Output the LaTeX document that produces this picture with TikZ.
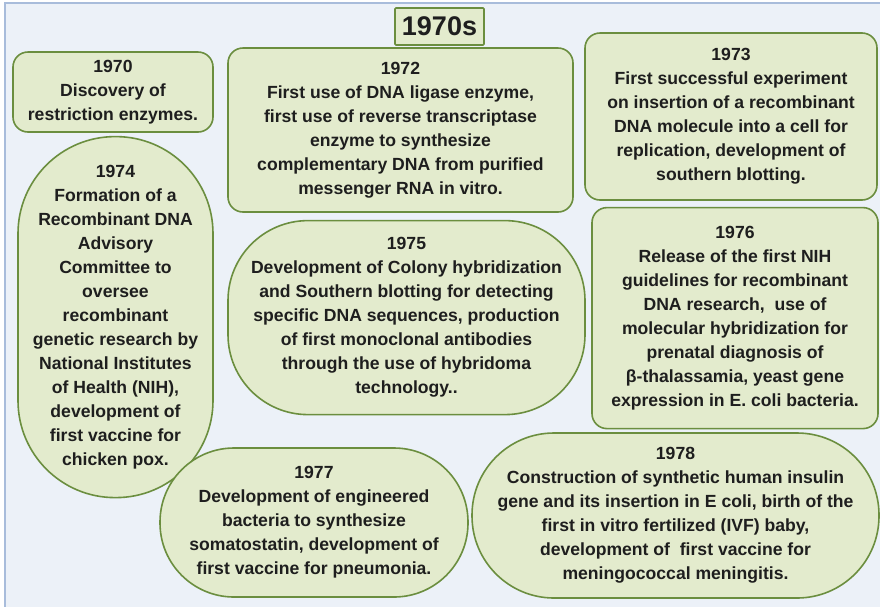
\documentclass[tikz,border=0pt]{standalone}
\usepackage{fontspec}
\setmainfont{Liberation Sans}
\usepackage{xcolor}
\usepackage{tikz}
\usetikzlibrary{
    positioning
}
\definecolor{eventfill}{HTML}{E3EBCD}
\definecolor{eventborder}{HTML}{6B8E3F}
\definecolor{eventtext}{HTML}{1E1E1E}
\definecolor{framefill}{HTML}{ECF1F8}
\definecolor{frameborder}{HTML}{A8BCDB}
\tikzset{
    event/.style={
        rectangle, draw=eventborder, fill=eventfill,
        line width=1.6pt, inner sep=0pt, align=center,
        text=eventtext,
        font=\fontsize{17.6}{24}\selectfont\bfseries
    },
    event box/.style={
        event, rounded corners=15pt
    },
    event round/.style={
        event, rounded corners=#1
    },
    decade label/.style={
        event, rounded corners=1pt,
        font=\fontsize{27}{30}\selectfont\bfseries
    },
}

\begin{document}
\begin{tikzpicture}[x=1pt, y=-1pt]

    % page and frame
    \useasboundingbox (0,0) rectangle (880,606);
    \clip (0,0) rectangle (880,606);
    \fill[white] (0,0) rectangle (880,606);
    \draw[fill=framefill, draw=frameborder, line width=1.8pt] (5,3) rectangle (895,620);

    % title
    \node[decade label, minimum width=89pt, minimum height=37pt] (decade) at (439.5,26.5) {1970s};

    % 1970
    \node[event box, minimum width=200pt, minimum height=80pt] (ev1970) at (113,92) {
        1970\\
        Discovery of\\
        restriction enzymes.
    };

    % 1972
    \node[event box, minimum width=345pt, minimum height=164pt] (ev1972) at (400.5,130) {
        1972\\
        First use of DNA ligase enzyme,\\
        first use of reverse transcriptase\\
        enzyme to synthesize\\
        complementary DNA from purified\\
        messenger RNA in vitro.
    };

    % 1973
    \node[event box, minimum width=292pt, minimum height=167pt] (ev1973) at (731,116.5) {
        1973\\
        First successful experiment\\
        on insertion of a recombinant\\
        DNA molecule into a cell for\\
        replication, development of\\
        southern blotting.
    };

    % 1974
    \node[event round=97pt, minimum width=195pt, minimum height=361pt,
          below=3pt of ev1970, xshift=2.5pt] (ev1974) {
        1974\\
        Formation of a\\
        Recombinant DNA\\
        Advisory\\
        Committee to\\
        oversee\\
        recombinant\\
        genetic research by\\
        National Institutes\\
        of Health (NIH),\\
        development of\\
        first vaccine for\\
        chicken pox.
    };

    % 1975
    \node[event round=80pt, minimum width=357pt, minimum height=194pt,
          below=7pt of ev1972, xshift=6pt] (ev1975) {
        1975\\
        Development of Colony hybridization\\
        and Southern blotting for detecting\\
        specific DNA sequences, production\\
        of first monoclonal antibodies\\
        through the use of hybridoma\\
        technology..
    };

    % 1976
    \node[event box, minimum width=286pt, minimum height=221pt,
          below=6pt of ev1973, xshift=4pt] (ev1976) {
        1976\\
        Release of the first NIH\\
        guidelines for recombinant\\
        DNA research,\ \ use of\\
        molecular hybridization for\\
        prenatal diagnosis of\\
        β-thalassamia, yeast gene\\
        expression in E. coli bacteria.
    };

    % 1977
    \node[event round=74pt, minimum width=308pt, minimum height=149pt] (ev1977) at (314,522.5) {
        1977\\
        Development of engineered\\
        bacteria to synthesize\\
        somatostatin, development of\\
        first vaccine for pneumonia.
    };

    % 1978
    \node[event round=82pt, minimum width=407pt, minimum height=165pt] (ev1978) at (675.5,515.5) {
        1978\\
        Construction of synthetic human insulin\\
        gene and its insertion in E coli, birth of the\\
        first in vitro fertilized (IVF) baby,\\
        development of\ \ first vaccine for\\
        meningococcal meningitis.
    };

\end{tikzpicture}
\end{document}
